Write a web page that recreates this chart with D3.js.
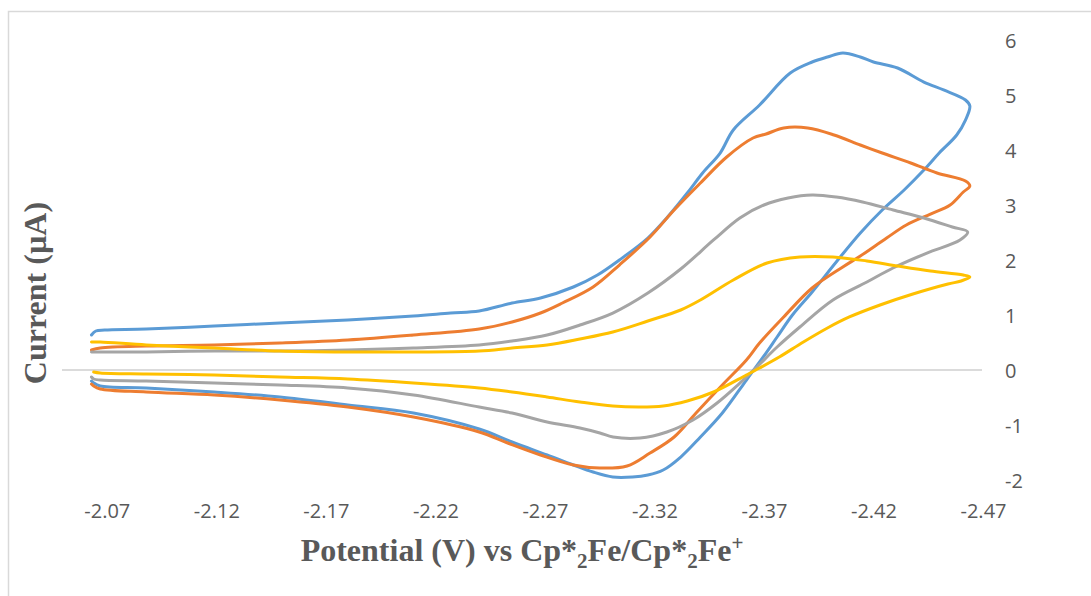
<!DOCTYPE html>
<html>
<head>
<meta charset="utf-8">
<script src="https://cdn.jsdelivr.net/npm/d3@7"></script>
<style>
  html, body { margin: 0; padding: 0; background: #fff; }
  svg { display: block; }
</style>
</head>
<body>
<svg id="chart" width="1091" height="596"></svg>
<script>
// ---- Data (potential V vs Cp*2Fe/Cp*2Fe+, current µA) ----
const xTicks = [-2.07, -2.12, -2.17, -2.22, -2.27, -2.32, -2.37, -2.42, -2.47];
const yTicks = [-2, -1, 0, 1, 2, 3, 4, 5, 6];
const seriesColors = ["#5B9BD5", "#ED7D31", "#A5A5A5", "#FFC000"];

const scanBlue = [
  [-2.063,0.636],[-2.065,0.709],[-2.069,0.727],[-2.088,0.745],[-2.119,0.80],[-2.149,0.855],
  [-2.180,0.909],[-2.210,0.982],[-2.227,1.036],[-2.240,1.073],[-2.255,1.218],[-2.268,1.309],
  [-2.283,1.509],[-2.294,1.727],[-2.304,2.0],[-2.317,2.40],[-2.326,2.782],[-2.335,3.218],
  [-2.342,3.582],[-2.350,3.945],[-2.356,4.364],[-2.368,4.818],[-2.382,5.40],[-2.392,5.60],
  [-2.399,5.691],[-2.406,5.764],[-2.414,5.691],[-2.420,5.60],[-2.431,5.491],[-2.443,5.236],
  [-2.452,5.091],[-2.462,4.909],[-2.464,4.80],
  [-2.462,4.545],[-2.458,4.273],[-2.450,3.945],[-2.443,3.636],[-2.434,3.273],[-2.424,2.909],
  [-2.414,2.491],[-2.403,1.964],[-2.392,1.418],[-2.383,1.0],[-2.376,0.60],[-2.370,0.255],
  [-2.362,-0.182],[-2.351,-0.782],[-2.341,-1.218],[-2.332,-1.582],[-2.324,-1.818],[-2.317,-1.909],
  [-2.310,-1.945],[-2.301,-1.945],[-2.292,-1.855],[-2.283,-1.727],[-2.271,-1.545],[-2.255,-1.309],
  [-2.240,-1.073],[-2.210,-0.782],[-2.180,-0.636],[-2.149,-0.491],[-2.119,-0.40],[-2.088,-0.327],
  [-2.067,-0.291],[-2.064,-0.236],[-2.063,-0.20]
];
const scanOrange = [
  [-2.063,0.364],[-2.067,0.40],[-2.088,0.436],[-2.119,0.455],[-2.149,0.491],[-2.180,0.545],
  [-2.210,0.636],[-2.240,0.745],[-2.255,0.873],[-2.268,1.036],[-2.278,1.218],[-2.292,1.509],
  [-2.304,1.909],[-2.318,2.418],[-2.329,2.909],[-2.341,3.40],[-2.353,3.873],[-2.365,4.218],
  [-2.371,4.291],[-2.379,4.40],[-2.390,4.40],[-2.402,4.273],[-2.414,4.091],[-2.424,3.945],
  [-2.437,3.764],[-2.449,3.582],[-2.462,3.436],[-2.464,3.345],
  [-2.461,3.236],[-2.455,3.0],[-2.446,2.836],[-2.435,2.636],[-2.426,2.40],[-2.414,2.073],
  [-2.406,1.873],[-2.392,1.491],[-2.379,0.964],[-2.368,0.491],[-2.362,0.182],[-2.351,-0.273],
  [-2.339,-0.782],[-2.329,-1.218],[-2.318,-1.509],[-2.3075,-1.745],[-2.295,-1.782],
  [-2.283,-1.727],[-2.268,-1.545],[-2.253,-1.327],[-2.240,-1.127],[-2.210,-0.855],[-2.180,-0.673],
  [-2.149,-0.545],[-2.119,-0.455],[-2.088,-0.40],[-2.067,-0.345],[-2.064,-0.291],[-2.063,-0.255]
];
const scanGray = [
  [-2.063,0.327],[-2.088,0.327],[-2.119,0.345],[-2.149,0.345],[-2.180,0.364],[-2.210,0.40],
  [-2.240,0.455],[-2.255,0.527],[-2.271,0.636],[-2.286,0.818],[-2.301,1.036],[-2.317,1.40],
  [-2.332,1.836],[-2.347,2.364],[-2.359,2.764],[-2.370,3.0],[-2.381,3.127],[-2.392,3.182],
  [-2.403,3.145],[-2.415,3.055],[-2.429,2.909],[-2.443,2.764],[-2.456,2.60],[-2.463,2.509],
  [-2.4595,2.364],[-2.4444,2.127],[-2.4289,1.855],[-2.417,1.60],[-2.4015,1.273],[-2.3864,0.782],
  [-2.376,0.418],[-2.3668,0.055],[-2.3591,-0.236],[-2.3486,-0.60],[-2.3376,-0.909],[-2.3257,-1.127],
  [-2.3134,-1.236],[-2.3011,-1.218],[-2.2951,-1.145],[-2.286,-1.055],[-2.271,-0.945],[-2.255,-0.782],
  [-2.240,-0.673],[-2.210,-0.455],[-2.180,-0.327],[-2.149,-0.273],[-2.119,-0.236],[-2.088,-0.20],
  [-2.067,-0.182],[-2.064,-0.164],[-2.063,-0.127]
];
const scanYellow = [
  [-2.063,0.509],[-2.067,0.509],[-2.088,0.455],[-2.119,0.40],[-2.149,0.345],[-2.180,0.327],
  [-2.210,0.327],[-2.240,0.345],[-2.255,0.40],[-2.271,0.455],[-2.286,0.564],[-2.301,0.691],
  [-2.317,0.891],[-2.332,1.091],[-2.341,1.273],[-2.356,1.636],[-2.3714,1.945],[-2.3864,2.055],
  [-2.4015,2.055],[-2.417,1.982],[-2.431,1.891],[-2.446,1.80],[-2.461,1.727],[-2.464,1.691],
  [-2.460,1.618],[-2.454,1.564],[-2.438,1.382],[-2.423,1.182],[-2.409,0.964],[-2.399,0.764],
  [-2.388,0.509],[-2.377,0.236],[-2.368,0.036],[-2.362,-0.091],[-2.347,-0.400],[-2.335,-0.564],
  [-2.324,-0.655],[-2.313,-0.673],[-2.301,-0.655],[-2.286,-0.582],[-2.271,-0.491],[-2.255,-0.40],
  [-2.240,-0.327],[-2.210,-0.236],[-2.180,-0.164],[-2.149,-0.127],[-2.119,-0.091],[-2.088,-0.073],
  [-2.067,-0.055],[-2.064,-0.036]
];
const allScans = [scanBlue, scanOrange, scanGray, scanYellow];

// ---- Layout ----
const svg = d3.select("#chart");
const plot = { left: 63, right: 983, top: 40, bottom: 480 };

// chart area border
svg.append("rect")
  .attr("x", 8.5).attr("y", 11.5)
  .attr("width", 1200).attr("height", 800)
  .attr("fill", "#fff").attr("stroke", "#d9d9d9").attr("stroke-width", 1.5);

const x = d3.scaleLinear().domain([-2.05, -2.47]).range([plot.left, plot.right]);
const y = d3.scaleLinear().domain([-2, 6]).range([plot.bottom, plot.top]);

const hyphenFmt = f => d => f(d).replace("\u2212", "-");

// zero line (horizontal axis line)
svg.append("line")
  .attr("x1", x(-2.05) - 1).attr("x2", x(-2.47) - 1)
  .attr("y1", y(0)).attr("y2", y(0))
  .attr("stroke", "#cfcfcf").attr("stroke-width", 1.5);

// X tick labels (bottom)
const xAxis = d3.axisBottom(x).tickValues(xTicks).tickSize(0).tickPadding(0)
  .tickFormat(hyphenFmt(d3.format(".2f")));
const gx = svg.append("g").attr("transform", `translate(0,${plot.bottom + 24})`).call(xAxis);
gx.select(".domain").remove();
gx.selectAll("text")
  .attr("dy", null).attr("y", 14)
  .attr("fill", "#595959")
  .style("font-family", "'Open Sans', 'Noto Sans', sans-serif")
  .style("font-size", "20px");

// Y tick labels (right)
const yAxis = d3.axisRight(y).tickValues(yTicks).tickSize(0).tickPadding(0)
  .tickFormat(hyphenFmt(d3.format("d")));
const gy = svg.append("g").attr("transform", `translate(1005,0)`).call(yAxis);
gy.select(".domain").remove();
gy.selectAll("text")
  .attr("dy", "0.35em").attr("x", 0)
  .attr("fill", "#595959")
  .style("text-anchor", "start")
  .style("font-family", "'Open Sans', 'Noto Sans', sans-serif")
  .style("font-size", "20px");

// Series lines
const line = d3.line()
  .x(d => x(d[0])).y(d => y(d[1]))
  .curve(d3.curveCatmullRom.alpha(0.5));

allScans.forEach((s, i) => {
  svg.append("path")
    .datum(s)
    .attr("d", line)
    .attr("fill", "none")
    .attr("stroke", seriesColors[i])
    .attr("stroke-width", 3)
    .attr("stroke-linejoin", "round")
    .attr("stroke-linecap", "round");
});

// X axis title
const xt = svg.append("text")
  .attr("x", 522).attr("y", 561)
  .attr("text-anchor", "middle")
  .attr("fill", "#595959")
  .style("font-family", "'Liberation Serif', 'Times New Roman', serif")
  .style("font-weight", "bold")
  .style("font-size", "32px");
xt.append("tspan").text("Potential (V) vs Cp*");
xt.append("tspan").text("2").attr("dy", 7).style("font-size", "21px");
xt.append("tspan").text("Fe/Cp*").attr("dy", -7);
xt.append("tspan").text("2").attr("dy", 7).style("font-size", "21px");
xt.append("tspan").text("Fe").attr("dy", -7);
xt.append("tspan").text("+").attr("dy", -11).style("font-size", "21px");

// Y axis title
svg.append("text")
  .attr("transform", "translate(46,293) rotate(-90)")
  .attr("text-anchor", "middle")
  .attr("fill", "#595959")
  .style("font-family", "'Liberation Serif', 'Times New Roman', serif")
  .style("font-weight", "bold")
  .style("font-size", "32px")
  .text("Current (µA)");
</script>
</body>
</html>
